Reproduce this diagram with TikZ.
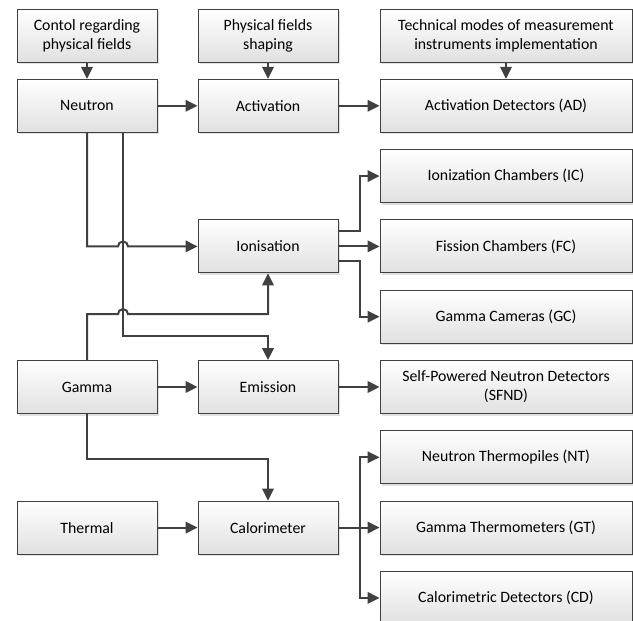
\documentclass[tikz,border=0pt]{standalone}
\usepackage{fontspec}
\setmainfont{Carlito}
\usepackage{tikz}
\usetikzlibrary{calc}
\usetikzlibrary{arrows.meta}
\usetikzlibrary{shadows}
\usetikzlibrary{positioning}
\definecolor{boxline}{HTML}{404040}
\tikzstyle{block} = [draw=boxline, line width=0.9pt, rectangle,
    top color=white, bottom color=black!12,
    drop shadow={shadow xshift=2pt, shadow yshift=-2pt, fill=black!20, opacity=0.6},
    minimum height=53pt, minimum width=140pt, align=center, inner sep=2pt]
\tikzstyle{wideblock} = [block, minimum width=252pt]
\tikzstyle{link} = [draw=boxline, line width=2pt, ->]

\begin{document}
\begin{tikzpicture}[node distance=181pt, >={Triangle[length=12pt,width=11.5pt]},
    font=\fontsize{15.8}{19.2}\selectfont]
    \useasboundingbox (0,0) rectangle (633pt,-621pt);
    % The three headings on top
    \node [block] (contol) at (87pt,-35.5pt) {Contol regarding\\physical fields};
    \node [block, right of=contol] (shaping) {Physical fields\\shaping};
    \node [wideblock, right of=shaping, node distance=238pt] (modes) {Technical modes of measurement\\instruments implementation};
    % Fields, effects and detectors
    \node [block, below of=contol, node distance=70.3pt] (neutron) {Neutron};
    \node [block, right of=neutron] (activation) {Activation};
    \node [wideblock, right of=activation, node distance=238pt] (ad) {Activation Detectors (AD)};
    \node [block, below of=activation, node distance=140.6pt] (ionisation) {Ionisation};
    \node [wideblock, right of=ionisation, node distance=238pt] (fc) {Fission Chambers (FC)};
    \node [wideblock, above of=fc, node distance=70.3pt] (ic) {Ionization Chambers (IC)};
    \node [wideblock, below of=fc, node distance=70.3pt] (gc) {Gamma Cameras (GC)};
    \node [block, below of=ionisation, node distance=140.6pt] (emission) {Emission};
    \node [block, left of=emission] (gamma) {Gamma};
    \node [wideblock, right of=emission, node distance=238pt] (sfnd) {Self-Powered Neutron Detectors\\(SFND)};
    \node [block, below of=emission, node distance=140.6pt] (calorimeter) {Calorimeter};
    \node [block, left of=calorimeter] (thermal) {Thermal};
    \node [wideblock, right of=calorimeter, node distance=238pt] (gt) {Gamma Thermometers (GT)};
    \node [wideblock, above of=gt, node distance=70.3pt] (nt) {Neutron Thermopiles (NT)};
    \node [wideblock, below of=gt, node distance=70.3pt] (cd) {Calorimetric Detectors (CD)};
    % Headings feed the top row
    \draw [link] (contol) -- (neutron);
    \draw [link] (shaping) -- (activation);
    \draw [link] (modes) -- (ad);
    \draw [link] (neutron) -- (activation);
    \draw [link] (activation) -- (ad);
    % Lines leaving neutron and gamma, with hops where they cross
    \coordinate [right=36pt of neutron.south] (nright);
    \coordinate [above=46pt of gamma.north] (gup);
    \coordinate [below=45pt of gamma.south] (gdown);
    \draw [link] (neutron.south) |- ($(nright |- ionisation.west)+(-5pt,0)$) arc (180:0:5pt) -- (ionisation.west);
    \draw [link] (nright) |- ($(emission.north)+(0,24pt)$) -- (emission.north);
    \draw [link] (gamma.north) -- (gup) -- ($(nright |- gup)+(-5pt,0)$) arc (180:0:5pt) -| (ionisation.south);
    \draw [link] (gamma) -- (emission);
    \draw [link] (emission) -- (sfnd);
    \draw [link] (gamma.south) -- (gdown) -| (calorimeter.north);
    \draw [link] (thermal) -- (calorimeter);
    % Ionisation branches
    \draw [link] ($(ionisation.east)+(0,15pt)$) -- ++(22pt,0) |- (ic.west);
    \draw [link] (ionisation) -- (fc);
    \draw [link] ($(ionisation.east)+(0,-15pt)$) -- ++(22pt,0) |- (gc.west);
    % Calorimeter branches
    \coordinate [right=22pt of calorimeter.east] (split);
    \draw [link] (calorimeter) -- (gt);
    \draw [link] (split) |- (nt.west);
    \draw [link] (split) |- (cd.west);
\end{tikzpicture}
\end{document}
